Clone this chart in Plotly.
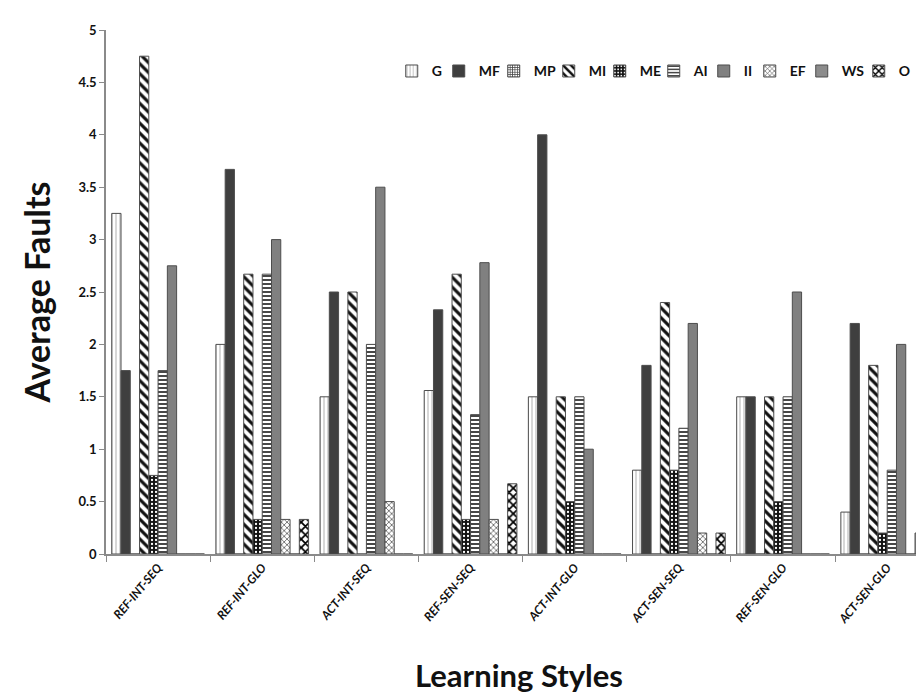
import plotly.graph_objects as go

categories = ["REF-INT-SEQ", "REF-INT-GLO", "ACT-INT-SEQ", "REF-SEN-SEQ",
              "ACT-INT-GLO", "ACT-SEN-SEQ", "REF-SEN-GLO", "ACT-SEN-GLO"]

G = [3.25, 2.0, 1.5, 1.56, 1.5, 0.8, 1.5, 0.4]
MF = [1.75, 3.67, 2.5, 2.33, 4.0, 1.8, 1.5, 2.2]
MP = [0, 0, 0, 0, 0, 0, 0, 0]
MI = [4.75, 2.67, 2.5, 2.67, 1.5, 2.4, 1.5, 1.8]
ME = [0.75, 0.33, 0, 0.33, 0.5, 0.8, 0.5, 0.2]
AI = [1.75, 2.67, 2.0, 1.33, 1.5, 1.2, 1.5, 0.8]
II = [2.75, 3.0, 3.5, 2.78, 1.0, 2.2, 2.5, 2.0]
EF = [0, 0.33, 0.5, 0.33, 0, 0.2, 0, 0]
WS = [0, 0, 0, 0, 0, 0, 0, 0.2]
O = [0, 0.33, 0, 0.67, 0, 0.2, 0, 0.2]

series_names = ["G", "MF", "MP", "MI", "ME", "AI", "II", "EF", "WS", "O"]
series_values = [G, MF, MP, MI, ME, AI, II, EF, WS, O]

y_ticks = [0, 0.5, 1, 1.5, 2, 2.5, 3, 3.5, 4, 4.5, 5]
y_tick_labels = ["0", "0.5", "1", "1.5", "2", "2.5", "3", "3.5", "4", "4.5", "5"]

# styles: pattern shape, fg, bg, size, solidity
styles = {
    "G":  dict(shape="|", fg="#b0b0b0", bg="#ffffff", size=4, sol=0.25),
    "MF": dict(shape="", fg="#3f3f3f", bg="#3f3f3f", size=6, sol=0.3),
    "MP": dict(shape="+", fg="#444444", bg="#ffffff", size=3, sol=0.5),
    "MI": dict(shape="\\", fg="#111111", bg="#ffffff", size=7, sol=0.45),
    "ME": dict(shape=".", fg="#ffffff", bg="#111111", size=4, sol=0.25),
    "AI": dict(shape="-", fg="#333333", bg="#ffffff", size=4, sol=0.45),
    "II": dict(shape="", fg="#808080", bg="#808080", size=6, sol=0.3),
    "EF": dict(shape="x", fg="#555555", bg="#ffffff", size=4, sol=0.35),
    "WS": dict(shape="", fg="#8c8c8c", bg="#8c8c8c", size=6, sol=0.3),
    "O":  dict(shape="x", fg="#000000", bg="#ffffff", size=6, sol=0.5),
}
legend_widths = {"G": 2, "MF": 10, "MP": 10, "MI": 6, "ME": 9,
                 "AI": 5, "II": 1, "EF": 7, "WS": 12, "O": 20}

fig = go.Figure()
for name, vals in zip(series_names, series_values):
    st = styles[name]
    marker = dict(color=st["bg"], line=dict(color="#4d4d4d", width=1))
    if st["shape"]:
        marker["pattern"] = dict(shape=st["shape"], fgcolor=st["fg"], bgcolor=st["bg"],
                                 size=st["size"], solidity=st["sol"], fillmode="replace")
    fig.add_trace(go.Bar(name=name, x=categories, y=vals, marker=marker,
                         legendwidth=legend_widths[name]))

font_family = "Lato, 'Open Sans', sans-serif"

fig.update_layout(
    width=924, height=698,
    margin=dict(l=98, r=0, t=22, b=152),
    paper_bgcolor="white", plot_bgcolor="white",
    barmode="group", bargap=0.11, bargroupgap=0,
    font=dict(family=font_family, color="#000000"),
    showlegend=True,
    legend=dict(orientation="h", xref="paper", yref="paper",
                x=0.99, xanchor="right", y=0.921, yanchor="middle",
                font=dict(size=14, family=font_family, weight="bold", color="#111"),
                itemwidth=30, bgcolor="rgba(0,0,0,0)", tracegroupgap=0),
    xaxis=dict(
        range=[-0.5, 7.43], type="category",
        showline=True, linecolor="#8a8a8a", linewidth=1.5,
        ticks="outside", tickson="boundaries", ticklen=6, tickcolor="#8a8a8a",
        tickangle=-50, showgrid=False,
        tickfont=dict(size=12, family=font_family, weight="bold", style="italic", color="#111"),
        title=dict(text="Learning Styles", standoff=40,
                   font=dict(size=31, family=font_family, weight="bold", color="#111")),
    ),
    yaxis=dict(
        range=[0, 5], tickvals=y_ticks, ticktext=y_tick_labels,
        showline=True, linecolor="#8a8a8a", linewidth=1.5,
        ticks="outside", ticklen=5, tickcolor="#8a8a8a",
        showgrid=False, zeroline=False,
        tickfont=dict(size=13, family=font_family, weight="bold", color="#111"),
        title=dict(text="Average Faults", standoff=18,
                   font=dict(size=34, family=font_family, weight="bold", color="#111")),
    ),
)

fig.write_html("out.html")
